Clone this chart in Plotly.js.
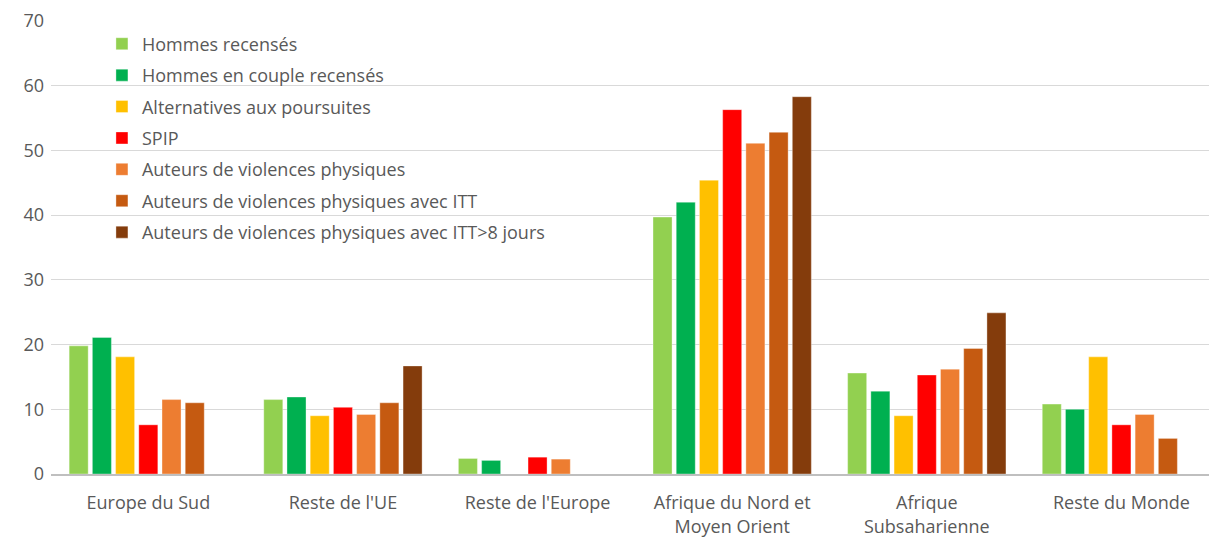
<!DOCTYPE html>
<html><head><meta charset="utf-8">
<script src="https://cdn.plot.ly/plotly-3.0.1.min.js"></script>
<style>html,body{margin:0;padding:0;background:#fff}#chart{width:1211px;height:537px}</style>
</head><body><div id="chart"></div>
<script>
const categories = ["Europe du Sud", "Reste de l'UE", "Reste de l'Europe", "Afrique du Nord et<br>Moyen Orient", "Afrique<br>Subsaharienne", "Reste du Monde"];
const seriesNames = ["Hommes recensés", "Hommes en couple recensés", "Alternatives aux poursuites", "SPIP", "Auteurs de violences physiques", "Auteurs de violences physiques avec ITT", "Auteurs de violences physiques avec ITT>8 jours"];
const hommesRecenses = [19.8, 11.5, 2.4, 39.7, 15.6, 10.8];
const hommesCouple = [21.1, 11.9, 2.1, 42.0, 12.8, 10.0];
const alternatives = [18.1, 9.0, null, 45.4, 9.0, 18.1];
const spip = [7.6, 10.3, 2.6, 56.3, 15.3, 7.6];
const auteurs = [11.5, 9.2, 2.3, 51.1, 16.2, 9.2];
const auteursITT = [11.0, 11.0, null, 52.8, 19.4, 5.5];
const auteursITT8 = [null, 16.7, null, 58.3, 24.9, null];
const colors = ["#92D050", "#00B050", "#FFC000", "#FF0000", "#ED7D31", "#C55A11", "#843C0C"];
const values = [hommesRecenses, hommesCouple, alternatives, spip, auteurs, auteursITT, auteursITT8];

const traces = values.map((v, i) => ({
  type: 'bar', x: categories, y: v, name: seriesNames[i], legendgroup: 'g' + i,
  marker: {color: colors[i], line: {color: 'rgba(255,255,255,0.35)', width: 1}},
  hoverinfo: 'none'
}));

const fam = 'Open Sans, Liberation Sans, sans-serif';
Plotly.newPlot('chart', traces, {
  width: 1211, height: 537,
  margin: {l: 51, r: 2, t: 21, b: 63},
  barmode: 'group', bargap: 0.165, bargroupgap: 0.18,
  paper_bgcolor: '#fff', plot_bgcolor: '#fff',
  font: {family: fam, size: 18, color: '#595959'},
  showlegend: true,
  legend: {x: 0.044, y: 0.99, xanchor: 'left', yanchor: 'top', bgcolor: 'rgba(0,0,0,0)',
    traceorder: 'grouped', tracegroupgap: 5, font: {family: fam, size: 18, color: '#595959'}},
  xaxis: {type: 'category', range: [-0.5, 5.45], showgrid: false, showline: true, linecolor: '#BFBFBF', linewidth: 1.5,
    ticks: '', tickfont: {size: 18, color: '#595959'}, ticklabelstandoff: 12, fixedrange: true},
  yaxis: {range: [0, 70], dtick: 10, showgrid: true, gridcolor: '#D9D9D9', gridwidth: 1,
    zeroline: false, showline: false, ticks: '', tickfont: {size: 18, color: '#595959'}, ticklabelstandoff: 6}
}, {displayModeBar: false, staticPlot: true});
</script></body></html>
